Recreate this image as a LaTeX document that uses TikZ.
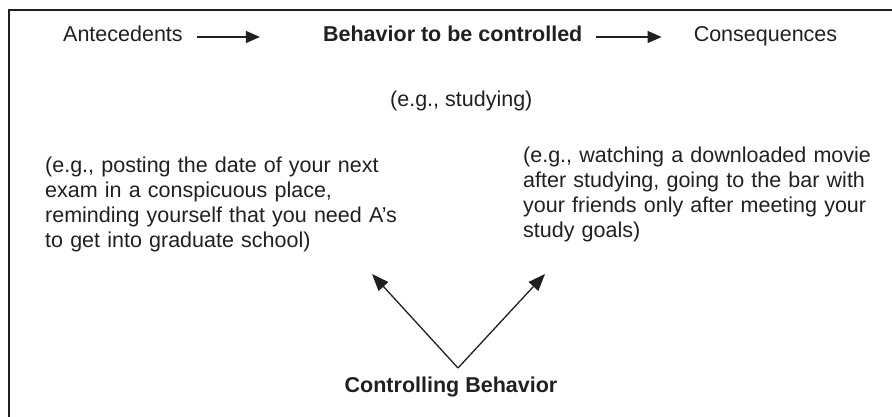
\documentclass[tikz,border=0pt]{standalone}
\usepackage{fontspec}
\setmainfont{Liberation Sans}
\usetikzlibrary{
  positioning,
  arrows.meta
}
\definecolor{ink}{RGB}{35,31,32}
\tikzset{
  x=1pt, y=-1pt,
  >={Triangle[length=14pt,width=12pt]},
  every node/.style={font=\fontsize{21.5}{24.7}\selectfont, inner sep=0pt, text=ink},
  example/.style={text width=360pt, align=left, anchor=base west},
  link/.style={->, draw=ink, line width=1.3pt},
  control link/.style={link, >={Triangle[length=17pt,width=13pt]}}
}

\begin{document}
\begin{tikzpicture}
    \useasboundingbox (0,0) rectangle (892,417);
    % open frame: only top and left rules
    \draw[ink, line width=1.7pt] (892,10) -- (9,10) -- (9,417);

    \node[anchor=base west] (ante) at (63,42) {Antecedents};
    \node[base right=140pt of ante] (behav) {\bfseries Behavior to be controlled};
    \node[base right=111pt of behav] (cons) {Consequences};
    \node[anchor=base west] (study) at (390,107) {(e.g., studying)};

    \node[example] (prompt) at (45,173) {(e.g., posting the date of your next\\
      exam in a conspicuous place,\\
      reminding yourself that you need A’s\\
      to get into graduate school)};
    \node[example] (reward) at (523,163) {(e.g., watching a downloaded movie\\
      after studying, going to the bar with\\
      your friends only after meeting your\\
      study goals)};

    \node[anchor=base] (ctrl) at (451,392) {\bfseries Controlling Behavior};
    \coordinate (apex) at (458,368);
    \coordinate (tipL) at (372,274);
    \coordinate (tipR) at (545,274);

    \draw[link] ([shift={(14,-5)}]ante.base east) -- ([shift={(-63,-5)}]behav.base west);
    \draw[link] ([shift={(13,-5)}]behav.base east) -- ([shift={(-32,-5)}]cons.base west);
    \draw[control link] (apex) -- (tipL);
    \draw[control link] (apex) -- (tipR);
  \end{tikzpicture}
\end{document}
